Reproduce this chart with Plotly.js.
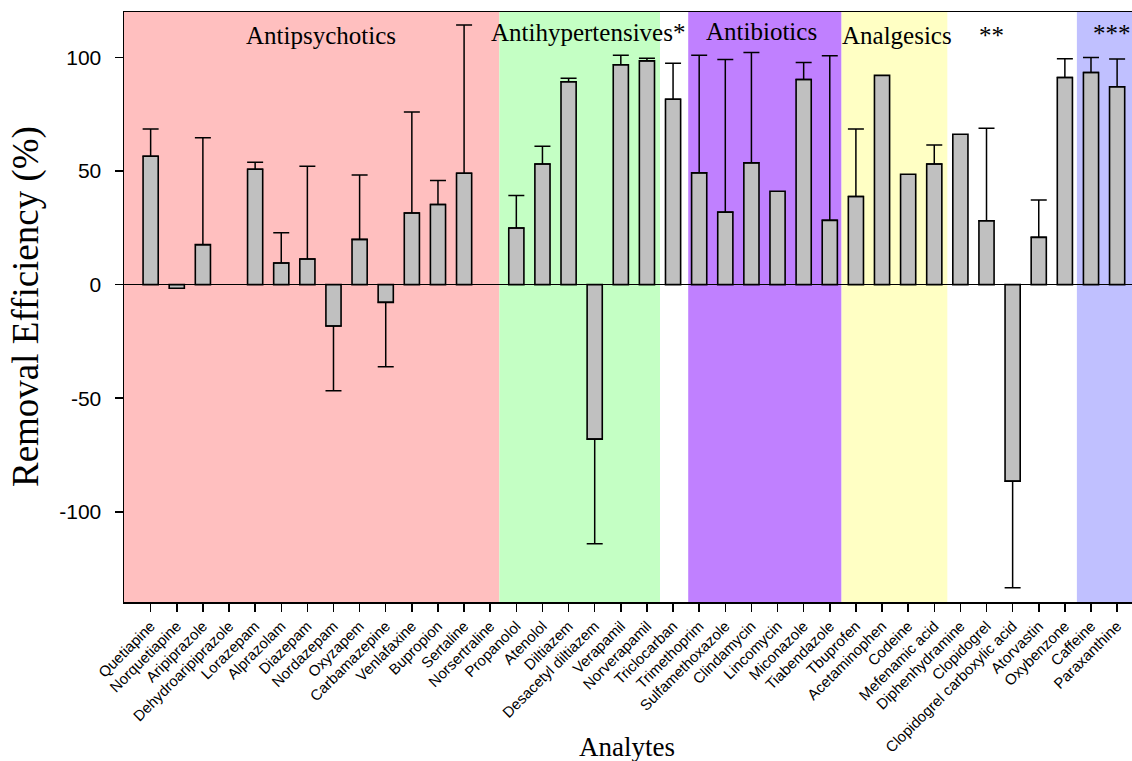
<!DOCTYPE html>
<html>
<head>
<meta charset="utf-8">
<script src="https://cdn.plot.ly/plotly-3.0.1.min.js"></script>
<style>
html,body{margin:0;padding:0;background:#ffffff;}
#chart{width:1132px;height:761px;}
</style>
</head>
<body>
<div id="chart"></div>
<script>
// ---- data ----
const analytes = [
  'Quetiapine','Norquetiapine','Aripiprazole','Dehydroaripiprazole','Lorazepam','Alprazolam',
  'Diazepam','Nordazepam','Oxyzapem','Carbamazepine','Venlafaxine','Bupropion','Sertaline',
  'Norsertraline','Propanolol','Atenolol','Diltiazem','Desacetyl diltiazem','Verapamil',
  'Norverapamil','Triclocarban','Trimethoprim','Sulfamethoxazole','Clindamycin','Lincomycin',
  'Miconazole','Tiabendazole','Tbuprofen','Acetaminophen','Codeine','Mefenamic acid',
  'Diphenhydramine','Clopidogrel','Clopidogrel carboxylic acid','Atorvastin','Oxybenzone',
  'Caffeine','Paraxanthine'
];
const removalEfficiency = [
  56.5, -1.6, 17.6, null, 50.8, 9.5,
  11.3, -18.2, 19.9, -7.8, 31.5, 35.3, 49.0,
  null, 24.9, 53.1, 89.3, -68.0, 96.8,
  98.5, 81.6, 49.2, 31.9, 53.6, 41.1,
  90.3, 28.3, 38.8, 92.1, 48.6, 53.1,
  66.2, 28.1, -86.5, 20.8, 91.2,
  93.4, 87.1
];
// one-sided error (drawn away from zero); null = no error bar
const errorMagnitude = [
  12.0, null, 47.1, null, 3.1, 13.3,
  40.8, 28.5, 28.3, 28.3, 44.5, 10.5, 65.3,
  null, 14.3, 7.8, 1.5, 46.1, 4.2,
  1.1, 15.8, 51.8, 67.2, 48.6, null,
  7.5, 72.4, 29.7, null, null, 8.4,
  null, 40.7, 46.9, 16.4, 8.2,
  6.6, 12.2
];
const groupLabels = ['Antipsychotics','Antihypertensives*','Antibiotics','Analgesics','**','***'];
const yTickValues = [-100, -50, 0, 50, 100];

// ---- layout configuration ----
const bandColors = ['#FFBFBF','#C4FFC4', null, '#C080FF','#FFFFC4', null, '#C0C0FF'];
const bandEdges = [-1.2, 13.35, 19.5, 20.58, 26.45, 30.5, 35.46, 38.5];
const labelPos = [
  {x: 6.52, y: 109.8},
  {x: 16.74, y: 111.0},
  {x: 23.39, y: 111.3},
  {x: 28.59, y: 109.8},
  {x: 32.21, y: 109.8},
  {x: 36.80, y: 110.6}
];

const plus = removalEfficiency.map((v, i) => {
  const e = errorMagnitude[i];
  if (e === null || v === null) return NaN;
  return v >= 0 ? e : 0;
});
const minus = removalEfficiency.map((v, i) => {
  const e = errorMagnitude[i];
  if (e === null || v === null) return NaN;
  return v < 0 ? e : 0;
});

const serif = 'Liberation Serif, Times New Roman, serif';
const sans = 'Liberation Sans, Arial, sans-serif';

const trace = {
  type: 'bar',
  x: analytes,
  y: removalEfficiency,
  width: 0.58,
  marker: {color: '#C0C0C0', line: {color: '#000000', width: 1.6}},
  error_y: {
    type: 'data', symmetric: false,
    array: plus, arrayminus: minus,
    color: '#000000', thickness: 1.5, width: 8
  },
  hoverinfo: 'x+y'
};

const shapes = [];
bandColors.forEach((c, i) => {
  if (!c) return;
  shapes.push({
    type: 'rect', layer: 'below', xref: 'x', yref: 'paper',
    x0: bandEdges[i], x1: bandEdges[i + 1], y0: 0, y1: 1,
    fillcolor: c, line: {width: 0}
  });
});

const annotations = groupLabels.map((t, i) => ({
  text: t, xref: 'x', yref: 'y', x: labelPos[i].x, y: labelPos[i].y,
  xanchor: 'center', yanchor: 'middle', showarrow: false,
  font: {family: serif, size: 25, color: '#000000'}
}));
annotations.push({
  text: 'Removal Efficiency (%)', xref: 'paper', yref: 'paper',
  x: -0.0972, y: 0.5, xanchor: 'center', yanchor: 'middle', textangle: -90,
  showarrow: false, font: {family: serif, size: 37, color: '#000000'}
});
annotations.push({
  text: 'Analytes', xref: 'paper', yref: 'paper',
  x: 0.499, y: -0.245, xanchor: 'center', yanchor: 'middle',
  showarrow: false, font: {family: serif, size: 27, color: '#000000'}
});

const layout = {
  width: 1132, height: 761,
  margin: {l: 124, r: 0, t: 11.5, b: 158.7, pad: 0},
  paper_bgcolor: '#ffffff', plot_bgcolor: '#ffffff',
  showlegend: false,
  xaxis: {
    type: 'category', range: [-1.02, 37.57],
    tickmode: 'linear', tick0: 0, dtick: 1,
    tickangle: -45, ticks: 'outside', ticklen: 8, tickwidth: 1.5, tickcolor: '#000',
    showline: true, linecolor: '#000', linewidth: 1.5, mirror: true,
    showgrid: false, zeroline: false, automargin: false,
    tickfont: {family: sans, size: 15, color: '#000'}
  },
  yaxis: {
    range: [-139.7, 120], tickmode: 'array', tickvals: yTickValues,
    ticktext: yTickValues.map(String),
    ticks: 'outside', ticklen: 8, tickwidth: 1.5, tickcolor: '#000',
    ticklabelstandoff: 9,
    showline: true, linecolor: '#000', linewidth: 1.5,
    showgrid: false, zeroline: true, zerolinecolor: '#000', zerolinewidth: 1.2,
    automargin: false,
    tickfont: {family: sans, size: 21, color: '#000'}
  },
  shapes: shapes,
  annotations: annotations
};

Plotly.newPlot('chart', [trace], layout, {displayModeBar: false, staticPlot: true});
</script>
</body>
</html>
